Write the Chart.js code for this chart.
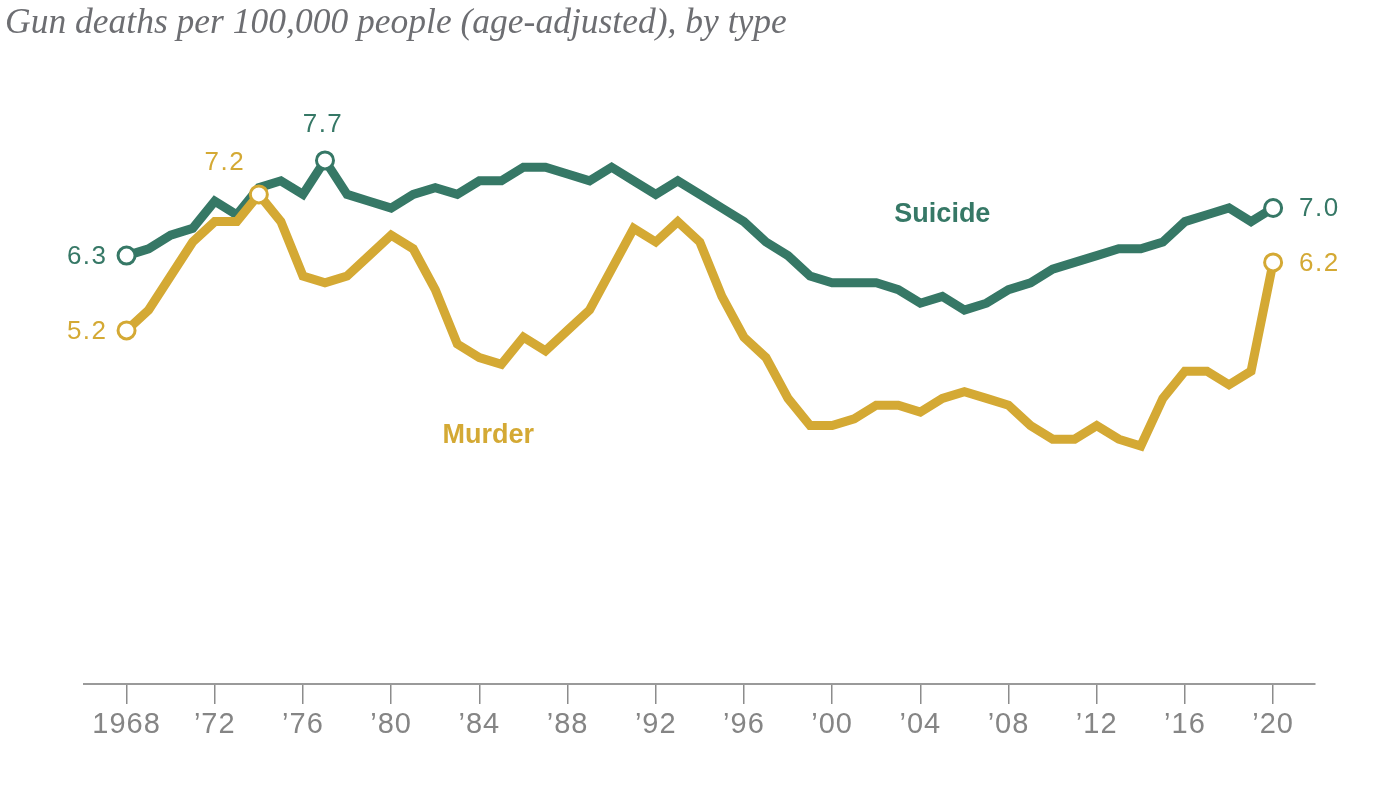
<!DOCTYPE html>
<html>
<head>
<meta charset="utf-8">
<script src="https://cdn.jsdelivr.net/npm/chart.js@4"></script>
<style>
  body { margin: 0; background: #fff; }
  #wrap { position: relative; width: 1400px; height: 789px; }
  #title {
    position: absolute; left: 5px; top: 0px;
    font-family: "Liberation Serif", serif; font-style: italic;
    font-size: 35.5px; color: #6d6e72; white-space: nowrap;
  }
  canvas { position: absolute; left: 0; top: 0; }
</style>
</head>
<body>
<div id="wrap">
  <canvas id="chart" width="1400" height="789"></canvas>
  <div id="title">Gun deaths per 100,000 people (age-adjusted), by type</div>
</div>
<script>
// Years and rates (per 100,000, age-adjusted)
const years = [1968, 1969, 1970, 1971, 1972, 1973, 1974, 1975, 1976, 1977,
  1978, 1979, 1980, 1981, 1982, 1983, 1984, 1985, 1986, 1987,
  1988, 1989, 1990, 1991, 1992, 1993, 1994, 1995, 1996, 1997,
  1998, 1999, 2000, 2001, 2002, 2003, 2004, 2005, 2006, 2007,
  2008, 2009, 2010, 2011, 2012, 2013, 2014, 2015, 2016, 2017,
  2018, 2019, 2020];
const suicideRate = [6.3, 6.4, 6.6, 6.7, 7.1, 6.9, 7.3, 7.4, 7.2, 7.7,
  7.2, 7.1, 7.0, 7.2, 7.3, 7.2, 7.4, 7.4, 7.6, 7.6,
  7.5, 7.4, 7.6, 7.4, 7.2, 7.4, 7.2, 7.0, 6.8, 6.5,
  6.3, 6.0, 5.9, 5.9, 5.9, 5.8, 5.6, 5.7, 5.5, 5.6,
  5.8, 5.9, 6.1, 6.2, 6.3, 6.4, 6.4, 6.5, 6.8, 6.9,
  7.0, 6.8, 7.0];
const murderRate = [5.2, 5.5, 6.0, 6.5, 6.8, 6.8, 7.2, 6.8, 6.0, 5.9,
  6.0, 6.3, 6.6, 6.4, 5.8, 5.0, 4.8, 4.7, 5.1, 4.9,
  5.2, 5.5, 6.1, 6.7, 6.5, 6.8, 6.5, 5.7, 5.1, 4.8,
  4.2, 3.8, 3.8, 3.9, 4.1, 4.1, 4.0, 4.2, 4.3, 4.2,
  4.1, 3.8, 3.6, 3.6, 3.8, 3.6, 3.5, 4.2, 4.6, 4.6,
  4.4, 4.6, 6.2];

// Years that get an open circle and a value label
const suicideMarked = [1968, 1977, 2020];
const murderMarked = [1968, 1974, 2020];

const tickYears = [1968, 1972, 1976, 1980, 1984, 1988, 1992, 1996, 2000, 2004, 2008, 2012, 2016, 2020];
const tickLabels = ['1968', '\u201972', '\u201976', '\u201980', '\u201984', '\u201988', '\u201992',
  '\u201996', '\u201900', '\u201904', '\u201908', '\u201912', '\u201916', '\u201920'];

const GREEN = '#367866';
const GOLD = '#d4a934';

function points(vals) {
  return years.map((y, i) => ({ x: y, y: vals[i] }));
}

// Callout placement relative to the marked point
const callouts = [
  { ds: 1, year: 1968, align: 'right', dx: -19, dy: 0 },
  { ds: 1, year: 1977, align: 'center', dx: -2, dy: -37 },
  { ds: 1, year: 2020, align: 'left', dx: 26, dy: 0 },
  { ds: 0, year: 1968, align: 'right', dx: -19, dy: 0 },
  { ds: 0, year: 1974, align: 'center', dx: -34, dy: -33 },
  { ds: 0, year: 2020, align: 'left', dx: 26, dy: 0 }
];

// Series names, placed in data units
const seriesLabels = [
  { text: 'Suicide', x: 2005.0, y: 6.9, color: GREEN },
  { text: 'Murder', x: 1984.4, y: 3.65, color: GOLD }
];

const labelPlugin = {
  id: 'labels',
  beforeDraw(chart) {
    chart.ctx.letterSpacing = '1px';
  },
  afterDatasetsDraw(chart) {
    const c = chart.ctx;
    const xs = chart.scales.x, ys = chart.scales.y;
    c.save();
    c.textBaseline = 'middle';
    c.letterSpacing = '1.5px';
    c.font = '26px "Liberation Sans", Arial, sans-serif';
    callouts.forEach(o => {
      const ds = chart.data.datasets[o.ds];
      const i = years.indexOf(o.year);
      const v = ds.data[i].y;
      c.fillStyle = ds.borderColor;
      c.textAlign = o.align;
      c.fillText(v.toFixed(1), xs.getPixelForValue(o.year) + o.dx, ys.getPixelForValue(v) + o.dy + 1);
    });
    c.letterSpacing = '0px';
    c.font = 'bold 27px "Liberation Sans", Arial, sans-serif';
    c.textAlign = 'center';
    seriesLabels.forEach(s => {
      c.fillStyle = s.color;
      c.fillText(s.text, xs.getPixelForValue(s.x), ys.getPixelForValue(s.y));
    });
    c.restore();
  }
};

function markRadius(marked) {
  return ctx => marked.includes(years[ctx.dataIndex]) ? 8.5 : 0;
}

new Chart(document.getElementById('chart'), {
  type: 'line',
  data: {
    datasets: [{
      label: 'Murder',
      data: points(murderRate),
      borderColor: GOLD,
      borderWidth: 9,
      pointRadius: markRadius(murderMarked),
      pointBackgroundColor: '#fff',
      pointBorderColor: GOLD,
      pointBorderWidth: 3,
      order: 0
    }, {
      label: 'Suicide',
      data: points(suicideRate),
      borderColor: GREEN,
      borderWidth: 9,
      pointRadius: markRadius(suicideMarked),
      pointBackgroundColor: '#fff',
      pointBorderColor: GREEN,
      pointBorderWidth: 3,
      order: 1
    }]
  },
  options: {
    responsive: false,
    animation: false,
    layout: { padding: { left: 84, right: 85, top: 72, bottom: 0 } },
    plugins: { legend: { display: false }, tooltip: { enabled: false } },
    scales: {
      x: {
        type: 'linear',
        min: 1966.07,
        max: 2021.9,
        afterBuildTicks: s => { s.ticks = tickYears.map(v => ({ value: v })); },
        afterFit: s => { s.height = 105; },
        grid: { drawOnChartArea: false, drawTicks: true, tickLength: 20, color: '#8c8c8c', lineWidth: 1.5 },
        border: { color: '#9a9a9a', width: 2 },
        ticks: {
          padding: 4,
          maxRotation: 0,
          autoSkip: false,
          color: '#858585',
          font: { family: '"Liberation Sans", Arial, sans-serif', size: 29 },
          callback: v => tickLabels[tickYears.indexOf(v)]
        }
      },
      y: {
        display: false,
        min: 0,
        max: 9
      }
    }
  },
  plugins: [labelPlugin]
});
</script>
</body>
</html>
